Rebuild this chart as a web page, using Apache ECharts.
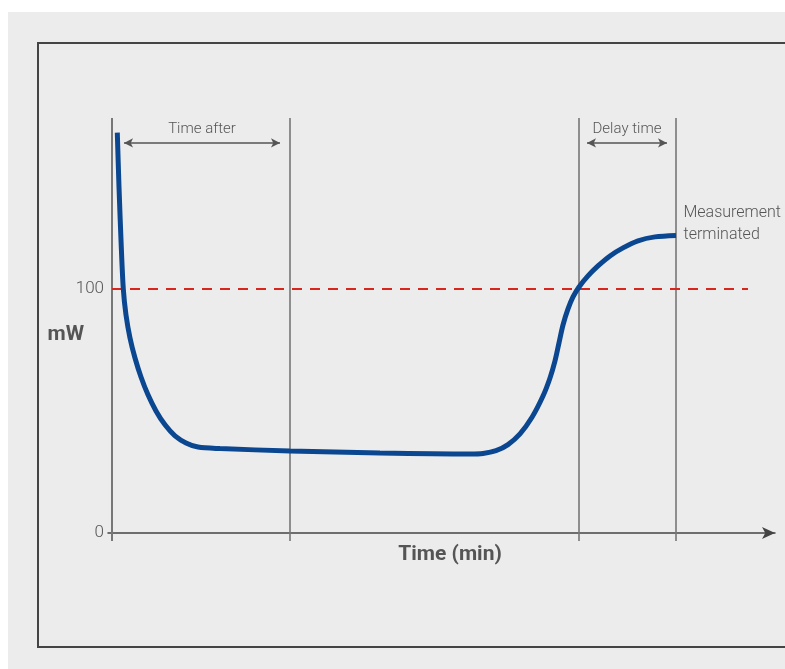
<!DOCTYPE html>
<html>
<head>
<meta charset="utf-8">
<script src="https://cdn.jsdelivr.net/npm/echarts@6/dist/echarts.min.js"></script>
<style>
html,body{margin:0;padding:0;background:#ffffff;}
#chart{width:785px;height:669px;}
</style>
</head>
<body>
<div id="chart"></div>
<script>
// Curve: time (min) vs power (mW)
const curveTime  = [0.53, 0.7, 0.9, 1.13, 1.4, 1.8, 2.3, 2.9, 3.6, 4.4, 5.3, 6.3, 7.4, 8.6, 10.8, 17.8, 26.8, 35.8, 37.1,
                    38.4, 39.6, 40.8, 42.0, 43.1, 43.8, 44.3, 44.7, 45.1, 45.6, 46.1, 46.7, 47.6, 48.6, 49.8, 51.1, 52.6, 54.3, 56.4];
const curvePower = [164, 141.8, 120, 100, 89.3, 79.9, 71.7, 63.9, 56.6, 50, 44.3, 39.8, 36.9, 35.2, 34.6, 33.6, 32.8, 32.4, 32.6,
                    33.7, 36.2, 40.6, 47.4, 56.1, 63.5, 70.5, 77.9, 85.2, 91.8, 96.7, 100.8, 105.3, 109.4, 113.5, 116.8, 119.7, 121.3, 121.9];
// Vertical reference lines (time positions)
const vLines = [0, 17.8, 46.7, 56.4];
const vLineRange = [-3.3, 170];
// Threshold line
const threshold = 100;
const thresholdRange = [0, 63.6];
// Interval arrows
const arrowLabels = ['Time after', 'Delay time'];
const arrowStart = [1.2, 47.5];
const arrowEnd = [16.8, 55.5];
const arrowLevel = 159.8;
// Tick labels
const yTickLabels = [0, 100];
const endNote = 'Measurement\nterminated';

const font = "Roboto, 'Liberation Sans', sans-serif";

const series = [];
vLines.forEach(function (t) {
  series.push({
    type: 'line', clip: false, silent: true, symbol: 'none', z: 1,
    lineStyle: { color: '#777', width: t === 0 ? 2 : 1.6 },
    data: [[t, vLineRange[0]], [t, vLineRange[1]]]
  });
});
series.push({
  type: 'line', silent: true, symbol: 'none', z: 2,
  lineStyle: { color: '#d9261c', width: 2, type: [10, 8] },
  data: [[thresholdRange[0], threshold], [thresholdRange[1], threshold]]
});
series.push({
  type: 'line', silent: true, data: [], z: 3,
  markLine: {
    silent: true,
    symbol: ['arrow', 'arrow'],
    symbolSize: [7, 9],
    lineStyle: { color: '#555', width: 1.5, type: 'solid' },
    label: { show: true, position: 'middle', distance: 6, color: '#555', fontSize: 15, fontFamily: font, fontWeight: 300,
      formatter: function (p) { return p.name; } },
    data: arrowLabels.map(function (name, i) {
      return [{ name: name, coord: [arrowStart[i], arrowLevel] }, { coord: [arrowEnd[i], arrowLevel] }];
    })
  }
});
series.push({
  type: 'line', smooth: 0.3, symbol: 'none', z: 5,
  lineStyle: { color: '#0a4790', width: 5, cap: 'butt' },
  data: curveTime.map(function (t, i) { return [t, curvePower[i]]; }),
  markPoint: {
    symbol: 'circle', symbolSize: 1, itemStyle: { color: 'rgba(0,0,0,0)' },
    label: { show: true, position: 'right', distance: 7, offset: [0, -11], color: '#555', fontSize: 16,
      lineHeight: 22, fontFamily: font, fontWeight: 300, formatter: endNote },
    data: [{ coord: [curveTime[curveTime.length - 1], curvePower[curvePower.length - 1]] }]
  }
});

const chart = echarts.init(document.getElementById('chart'));
chart.setOption({
  backgroundColor: 'transparent',
  animation: false,
  graphic: [
    { type: 'rect', z: -10, silent: true, shape: { x: 8, y: 12, width: 790, height: 670 }, style: { fill: '#ececec' } },
    { type: 'rect', z: -9, silent: true, shape: { x: 38, y: 43, width: 800, height: 604 }, style: { fill: 'none', stroke: '#444', lineWidth: 2 } }
  ],
  grid: { left: 108, right: 10, top: 118, bottom: 136 },
  xAxis: {
    type: 'value', min: -0.4, max: 66.3,
    splitLine: { show: false },
    axisTick: { show: false },
    axisLabel: { show: false },
    axisLine: { onZero: true, lineStyle: { color: '#444', width: 1.5 }, symbol: ['none', 'arrow'], symbolSize: [9, 13] },
    name: 'Time (min)', nameLocation: 'middle', nameGap: 11,
    nameTextStyle: { color: '#555', fontSize: 21, fontWeight: 'bold', fontFamily: font, padding: [0, 0, 0, 17] }
  },
  yAxis: {
    type: 'value', min: 0, max: 170, interval: 100,
    splitLine: { show: false },
    axisTick: { show: false },
    axisLine: { show: false },
    axisLabel: { color: '#555', fontSize: 17, fontFamily: font, fontWeight: 300, margin: 4,
      formatter: function (v) { return yTickLabels.indexOf(v) >= 0 ? String(v) : ''; } },
    name: 'mW', nameLocation: 'middle', nameRotate: 0, nameGap: 24, nameMoveOverlap: false,
    nameTextStyle: { color: '#555', fontSize: 21, fontWeight: 'bold', fontFamily: font, verticalAlign: 'top', lineHeight: 18 }
  },
  series: series
});
</script>
</body>
</html>
